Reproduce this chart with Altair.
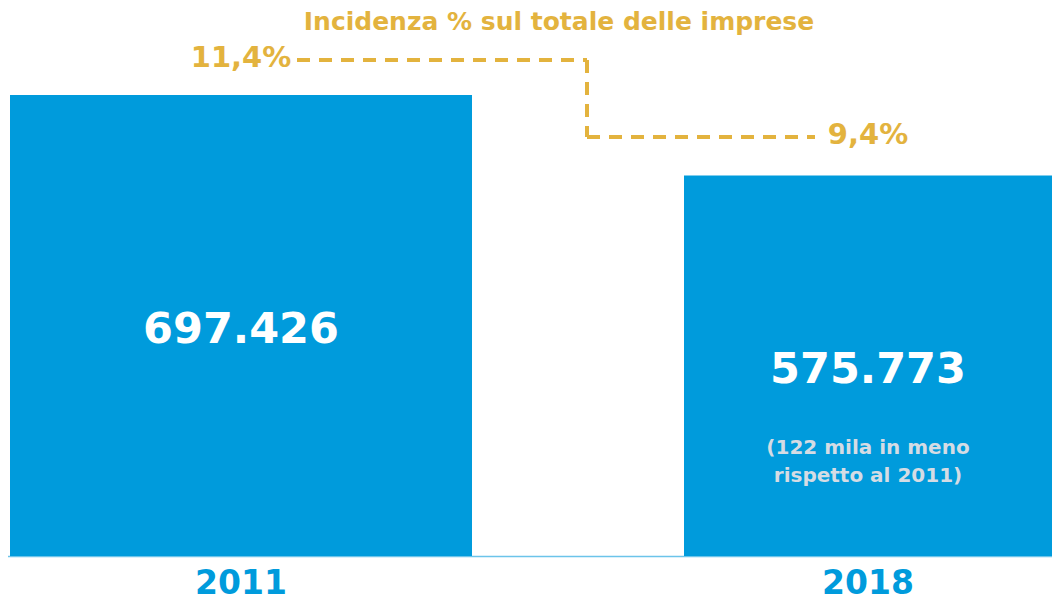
import altair as alt
import pandas as pd

# ---- data ----
years = ["2011", "2018"]
imprese = [697426, 575773]
imprese_label = ["697.426", "575.773"]
incidenza = [11.4, 9.4]
incidenza_label = ["11,4%", "9,4%"]
nota_anno = ["2018"]
nota_testo = ["(122 mila in meno\nrispetto al 2011)"]
titolo = "Incidenza % sul totale delle imprese"

BLUE = "#009BDC"
GOLD = "#E3B33E"
NOTE = "#D5DCE4"
FONT = "DejaVu Sans"

bars_df = pd.DataFrame({"anno": years, "imprese": imprese, "label": imprese_label})
pct_df = pd.DataFrame({"anno": years, "pct": incidenza, "label": incidenza_label})
conn_df = pd.DataFrame({"anno": [years[0]], "a": [years[1]],
                        "p0": [incidenza[0]], "p1": [incidenza[1]]})
note_df = pd.DataFrame({"anno": nota_anno, "testo": nota_testo})
note_df = note_df.merge(bars_df[["anno", "imprese"]], on="anno")

W, H = 1044, 548

xscale = alt.Scale(domain=years, range=[-80.5, 1173.5], paddingInner=0, paddingOuter=0)
ybar = alt.Scale(domain=[0, 829070], nice=False, zero=True)
ypct = alt.Scale(domain=[-1.484, 12.751], nice=False, zero=False)

xaxis = alt.Axis(title=None, ticks=False, tickSize=0, labelAngle=0,
                 labelFont=FONT, labelFontWeight="bold", labelFontSize=33,
                 labelColor=BLUE, labelPadding=37, labelBaseline="alphabetic",
                 domainColor="#6CC4EA", domainWidth=1.5, grid=False)


def X(**kw):
    return alt.X("anno:N", scale=xscale, axis=xaxis, **kw)


bars = alt.Chart(bars_df).mark_bar(color=BLUE).encode(
    x=X(),
    y=alt.Y("imprese:Q", scale=ybar, axis=None),
    size=alt.condition(alt.datum.anno == "2011", alt.value(462), alt.value(368)),
)

bar_labels = alt.Chart(bars_df).transform_calculate(
    half="datum.imprese / 2"
).mark_text(font=FONT, fontWeight="bold", fontSize=43, color="white",
            baseline="middle", dy=4).encode(
    x=X(),
    y=alt.Y("half:Q", scale=ybar, axis=None),
    text="label:N",
)

note = alt.Chart(note_df).transform_calculate(
    half="datum.imprese / 2"
).mark_text(font=FONT, fontWeight="bold", fontSize=20, color=NOTE,
            baseline="alphabetic", dy=88, lineBreak="\n", lineHeight=28).encode(
    x=X(),
    y=alt.Y("half:Q", scale=ybar, axis=None),
    text="testo:N",
)

dash = [13, 9]
seg1 = alt.Chart(conn_df).mark_rule(color=GOLD, strokeWidth=4, strokeDash=dash,
                                    xOffset=56, x2Offset=346).encode(
    x=X(bandPosition=0.5),
    x2=alt.X2("anno:N", bandPosition=0.5),
    y=alt.Y("p0:Q", scale=ypct, axis=None),
)
seg2 = alt.Chart(conn_df).mark_rule(color=GOLD, strokeWidth=4, strokeDash=dash,
                                    xOffset=346).encode(
    x=X(bandPosition=0.5),
    y=alt.Y("p0:Q", scale=ypct, axis=None),
    y2="p1:Q",
)
seg3 = alt.Chart(conn_df).mark_rule(color=GOLD, strokeWidth=4, strokeDash=dash,
                                    xOffset=346, x2Offset=-53).encode(
    x=X(bandPosition=0.5),
    x2=alt.X2("a:N", bandPosition=0.5),
    y=alt.Y("p1:Q", scale=ypct, axis=None),
)

pct_labels = alt.Chart(pct_df).mark_text(font=FONT, fontWeight="bold", fontSize=29,
                                         color=GOLD, baseline="middle", dy=-2).encode(
    x=X(),
    y=alt.Y("pct:Q", scale=ypct, axis=None),
    text="label:N",
)

title = alt.Chart(pd.DataFrame({"t": [titolo]})).mark_text(
    font=FONT, fontWeight="bold", fontSize=25, color=GOLD, baseline="middle"
).encode(x=alt.value(551), y=alt.value(14), text="t:N")

chart = alt.layer(
    bars, bar_labels, note, seg1, seg2, seg3, pct_labels, title
).resolve_scale(y="independent").properties(
    width=W, height=H,
    background="white",
    autosize=alt.AutoSizeParams(type="none"),
    padding={"left": 0, "top": 0, "right": 0, "bottom": 44},
).configure_view(strokeWidth=0, stroke="transparent")

chart.save("out.html", embed_options={"renderer": "svg", "actions": False})
